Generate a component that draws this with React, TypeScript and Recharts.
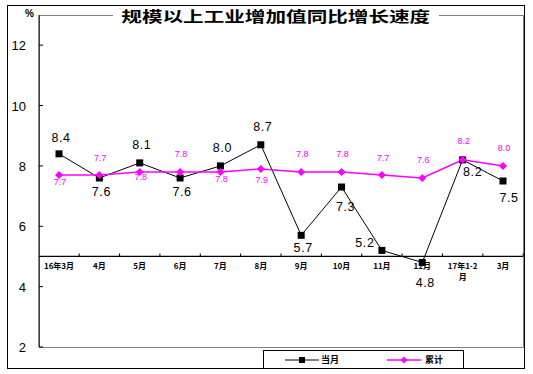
import React from "react";
import {
  LineChart,
  Line,
  XAxis,
  YAxis,
  ReferenceLine,
  LabelList,
} from "recharts";

const months = [
  "16年3月",
  "4月",
  "5月",
  "6月",
  "7月",
  "8月",
  "9月",
  "10月",
  "11月",
  "12月",
  "17年1-2月",
  "3月",
];
const monthly = [8.4, 7.6, 8.1, 7.6, 8.0, 8.7, 5.7, 7.3, 5.2, 4.8, 8.2, 7.5];
const cumulative = [7.7, 7.7, 7.8, 7.8, 7.8, 7.9, 7.8, 7.8, 7.7, 7.6, 8.2, 8.0];
const yTicks = [2, 4, 6, 8, 10, 12];

// where each value label sits relative to its point
const monthlyLabelPos = [
  [2, -16], [2, 14], [2, -18], [2, 14], [2, -18], [2, -18],
  [2, 12], [4, 19], [-17, -8], [3, 20], [10, 12], [6, 16],
];
const cumulativeLabelPos = [
  [1, 7], [1, -17], [1, 5], [1, -18], [1, 7], [1, 11],
  [1, -18], [1, -18], [1, -17], [1, -18], [1, -19], [1, -18],
];

const data = months.map((m, i) => ({
  month: m,
  monthly: monthly[i],
  cumulative: cumulative[i],
}));

const Y_MIN = 2;
const Y_MAX = 13;
const AXIS_CROSS = 5;
const PLOT_TOP = 15;
const PLOT_H = 332;
const axisY = PLOT_TOP + ((Y_MAX - AXIS_CROSS) / (Y_MAX - Y_MIN)) * PLOT_H;
const HALF_STEP = 20.2;
const MAGENTA = "#FF00FF";

const XTick = (props: any) => {
  const { x, payload } = props;
  const label: string = payload.value;
  const parts = label.startsWith("17年") ? ["17年1-2", "月"] : [label];
  return (
    <g>
      <line x1={x + HALF_STEP} x2={x + HALF_STEP} y1={axisY - 3} y2={axisY} stroke="#000" />
      {parts.map((p, i) => (
        <text
          key={i}
          x={x}
          y={axisY + 13 + i * 11}
          textAnchor="middle"
          fontSize={8}
          fontWeight="bold"
          fontFamily="'Noto Sans CJK SC', Arial, sans-serif"
          fill="#000"
        >
          {p}
        </text>
      ))}
    </g>
  );
};

const YTick = (props: any) => {
  const { x, y, payload } = props;
  return (
    <g>
      <line x1={x + 13} x2={x + 17} y1={y} y2={y} stroke="#000" />
      <text
        x={x}
        y={y + 5}
        textAnchor="end"
        fontSize={13}
        fontFamily="Arial, 'Liberation Sans', sans-serif"
        fill="#000"
      >
        {payload.value}
      </text>
    </g>
  );
};

const SquareDot = (props: any) => {
  const { cx, cy } = props;
  return <rect x={cx - 3.5} y={cy - 3.5} width={7} height={7} fill="#000" />;
};

const DiamondDot = (props: any) => {
  const { cx, cy } = props;
  return (
    <polygon
      points={`${cx},${cy - 4} ${cx + 4},${cy} ${cx},${cy + 4} ${cx - 4},${cy}`}
      fill={MAGENTA}
    />
  );
};

const makeLabel =
  (pos: number[][], color: string, size: number) => (props: any) => {
    const { x, y, value, index } = props;
    const [dx, dy] = pos[index];
    return (
      <text
        x={x + dx}
        y={y + dy + size * 0.36}
        textAnchor="middle"
        fontSize={size}
        fontFamily="Arial, 'Liberation Sans', sans-serif"
        fill={color}
        letterSpacing={size > 10 ? 0.6 : 0}
      >
        {Number(value).toFixed(1)}
      </text>
    );
  };

const LegendBox = () => (
  <div
    style={{
      position: "absolute",
      left: 263,
      top: 350,
      width: 201,
      height: 19,
      border: "1px solid #000",
      boxSizing: "border-box",
      background: "#fff",
    }}
  >
    <svg width={201} height={19} style={{ position: "absolute", left: -1, top: -1 }}>
      <line x1={22} x2={56} y1={10} y2={10} stroke="#000" />
      <rect x={36} y={7} width={6} height={6} fill="#000" />
      <line x1={124} x2={158} y1={10} y2={10} stroke={MAGENTA} strokeWidth={1.5} />
      <polygon points="141,6.5 144.5,10 141,13.5 137.5,10" fill={MAGENTA} />
      <text x={58} y={13} fontSize={9} fontWeight="bold" fontFamily="'Noto Sans CJK SC', sans-serif" fill="#000">
        当月
      </text>
      <text x={162} y={13} fontSize={9} fontWeight="bold" fontFamily="'Noto Sans CJK SC', sans-serif" fill="#000">
        累计
      </text>
    </svg>
  </div>
);

export default function App() {
  return (
    <div
      style={{
        position: "absolute",
        left: 0,
        top: 0,
        width: 533,
        height: 374,
        background: "#fff",
      }}
    >
      <div
        style={{
          position: "absolute",
          left: 7,
          top: 5,
          width: 518,
          height: 364,
          border: "1px solid #000",
          boxSizing: "border-box",
        }}
      />
      <div
        style={{
          position: "absolute",
          left: 39,
          top: 15,
          width: 485,
          height: 333,
          border: "1.5px solid #808080",
          boxSizing: "border-box",
        }}
      />
      <LineChart
        width={533}
        height={374}
        data={data}
        margin={{ top: 15, right: 10, bottom: 26, left: 9 }}
        style={{ position: "absolute", left: 0, top: 0 }}
      >
        <XAxis
          dataKey="month"
          interval={0}
          height={1}
          axisLine={false}
          tickLine={false}
          padding={{ left: 20, right: 20 }}
          tick={<XTick />}
        />
        <YAxis
          width={30}
          domain={[Y_MIN, Y_MAX]}
          ticks={yTicks}
          allowDataOverflow
          axisLine={{ stroke: "#000" }}
          tickLine={false}
          tickSize={0}
          tickMargin={13}
          tick={<YTick />}
        />
        <ReferenceLine y={AXIS_CROSS} stroke="#000" strokeWidth={1.2} />
        <Line
          dataKey="monthly"
          stroke="#000"
          strokeWidth={1}
          dot={<SquareDot />}
          activeDot={false}
          isAnimationActive={false}
        >
          <LabelList dataKey="monthly" content={makeLabel(monthlyLabelPos, "#000", 12.5)} />
        </Line>
        <Line
          dataKey="cumulative"
          stroke={MAGENTA}
          strokeWidth={1.5}
          dot={<DiamondDot />}
          activeDot={false}
          isAnimationActive={false}
        >
          <LabelList
            dataKey="cumulative"
            content={makeLabel(cumulativeLabelPos, MAGENTA, 9)}
          />
        </Line>
      </LineChart>
      <LegendBox />
      <div
        style={{
          position: "absolute",
          left: 25,
          top: 8,
          fontSize: 10,
          fontWeight: "bold",
          fontFamily: "Arial, sans-serif",
        }}
      >
        %
      </div>
      <div
        style={{
          position: "absolute",
          left: 113,
          top: 6,
          width: 326,
          height: 20,
          background: "#fff",
          textAlign: "center",
          fontFamily: "'Noto Sans CJK SC', sans-serif",
          fontWeight: "bold",
          fontSize: 14.5,
          lineHeight: "20px",
          color: "#000",
        }}
      >
        <span style={{ display: "inline-block", transform: "scaleX(1.42)" }}>
          规模以上工业增加值同比增长速度
        </span>
      </div>
    </div>
  );
}
